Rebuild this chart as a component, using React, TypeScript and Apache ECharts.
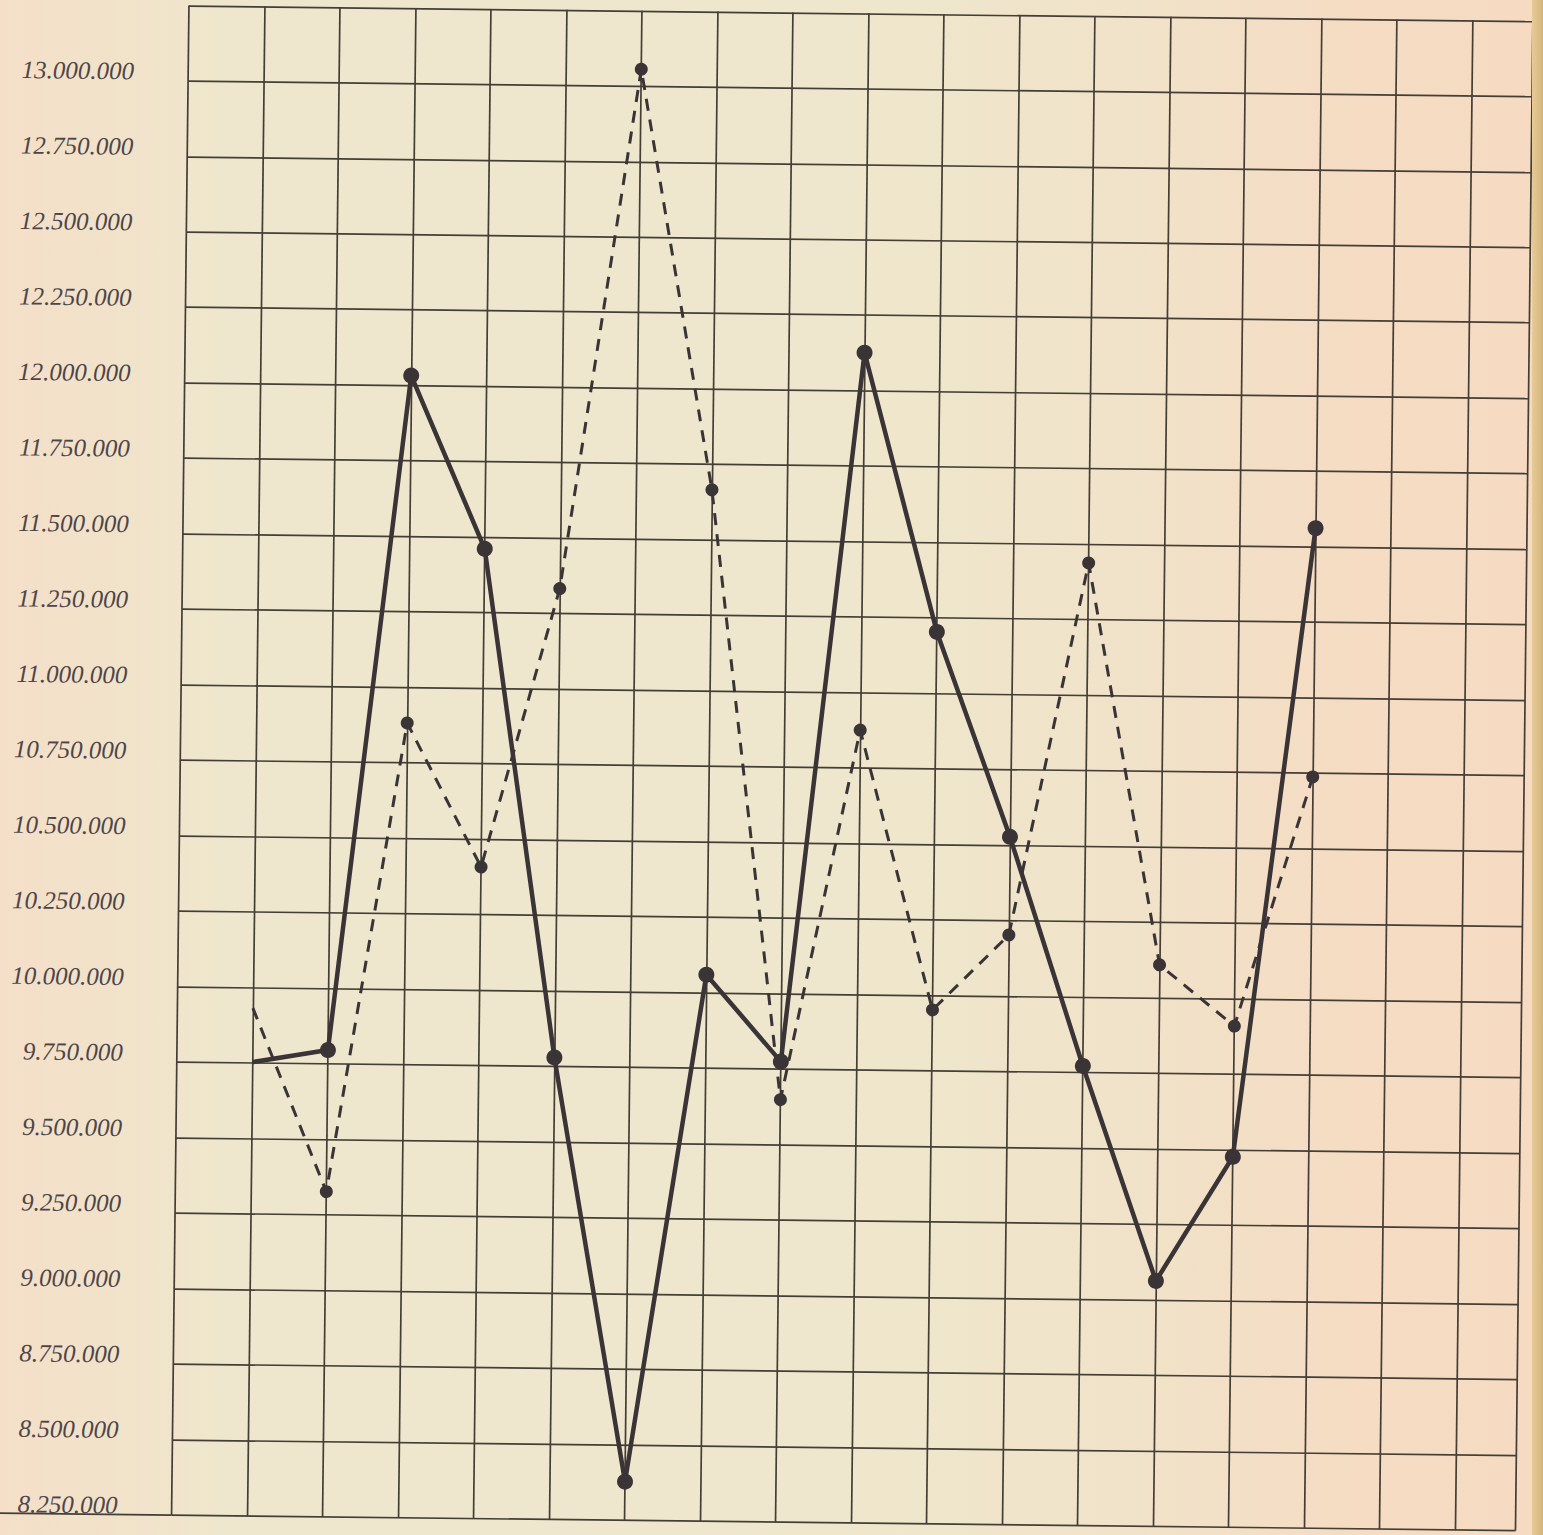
import React, { useEffect, useRef } from "react";
import * as echarts from "echarts";

// column index of each observation on the squared paper
const columns = [1, 2, 3, 4, 5, 6, 7, 8, 9, 10, 11, 12, 13, 14, 15];
// solid series
const solidValues = [
  9753000, 9796000, 12033000, 11462000, 9780000, 8378000, 10060000, 9775000,
  12126000, 11204000, 10528000, 9772000, 9063000, 9477000, 11562000,
];
// dashed series
const dashedValues = [
  9932000, 9327000, 10882000, 10408000, 11333000, 13056000, 11666000, 9649000,
  10876000, 9952000, 10203000, 11438000, 10110000, 9910000, 10738000,
];
const yMin = 8250000;
const yMax = 13250000;
const yStep = 250000;
const lastLabel = 13000000;

function fmt(v: number): string {
  const s = Math.round(v).toString();
  return s.replace(/\B(?=(\d{3})+(?!\d))/g, ".");
}

export default function App() {
  const ref = useRef<HTMLDivElement>(null);
  useEffect(() => {
    if (!ref.current) return;
    const chart = echarts.init(ref.current, undefined, { renderer: "svg" });
    const ink = "#3b3437";
    const gridInk = "#443e37";
    const toData = (vals: number[]) =>
      columns.map((c, i) =>
        i === 0 ? { value: [c, vals[i]], symbol: "none" } : { value: [c, vals[i]] }
      );
    chart.setOption({
      animation: false,
      backgroundColor: "transparent",
      grid: { left: 189, right: 10, top: 3.3, bottom: 22, containLabel: false },
      xAxis: {
        type: "value",
        min: 0,
        max: 17.8,
        interval: 1,
        axisLine: { show: false },
        axisTick: { show: false },
        axisLabel: { show: false },
        splitLine: { show: true, lineStyle: { color: gridInk, width: 1.7 } },
      },
      yAxis: {
        type: "value",
        min: yMin,
        max: yMax,
        interval: yStep,
        axisLine: { show: false },
        axisTick: { show: false },
        axisLabel: {
          show: true,
          margin: 54,
          fontSize: 25,
          lineHeight: 19,
          verticalAlign: "bottom",
          fontStyle: "italic",
          fontFamily: "'Liberation Serif', 'DejaVu Serif', serif",
          color: "#4d4649",
          formatter: (v: number) => (v > lastLabel ? "" : fmt(v)),
        },
        splitLine: { show: true, lineStyle: { color: gridInk, width: 1.7 } },
      },
      graphic: [
        {
          type: "line",
          shape: { x1: 0, y1: 1513, x2: 189, y2: 1513 },
          style: { stroke: gridInk, lineWidth: 1.7 },
        },
      ],
      series: [
        {
          name: "dashed",
          type: "line",
          data: toData(dashedValues),
          symbol: "circle",
          symbolSize: 13,
          z: 2,
          lineStyle: { color: ink, width: 3, type: [12, 9] },
          itemStyle: { color: ink },
        },
        {
          name: "solid",
          type: "line",
          data: toData(solidValues),
          symbol: "circle",
          symbolSize: 16,
          z: 3,
          lineStyle: { color: ink, width: 4.5 },
          itemStyle: { color: ink },
        },
      ],
    });
    return () => chart.dispose();
  }, []);

  return (
    <div
      style={{
        position: "fixed",
        left: 0,
        top: 0,
        width: 1543,
        height: 1535,
        overflow: "hidden",
        background:
          "linear-gradient(to right, #f5dfc8 0%, #f2e2ca 7%, #efe7cd 14%, #efe7cd 55%, #f0e3c9 72%, #f5dcc3 88%, #f6dbc2 99%)",
      }}
    >
      <div
        ref={ref}
        style={{
          position: "absolute",
          left: 0,
          top: 0,
          width: 1543,
          height: 1535,
          transform: "rotate(0.66deg)",
          transformOrigin: "0 0",
        }}
      />
      <div
        style={{
          position: "absolute",
          left: 1532,
          top: 0,
          width: 11,
          height: 1535,
          background: "linear-gradient(to right, #e6cb98, #d4b47a)",
        }}
      />
    </div>
  );
}
